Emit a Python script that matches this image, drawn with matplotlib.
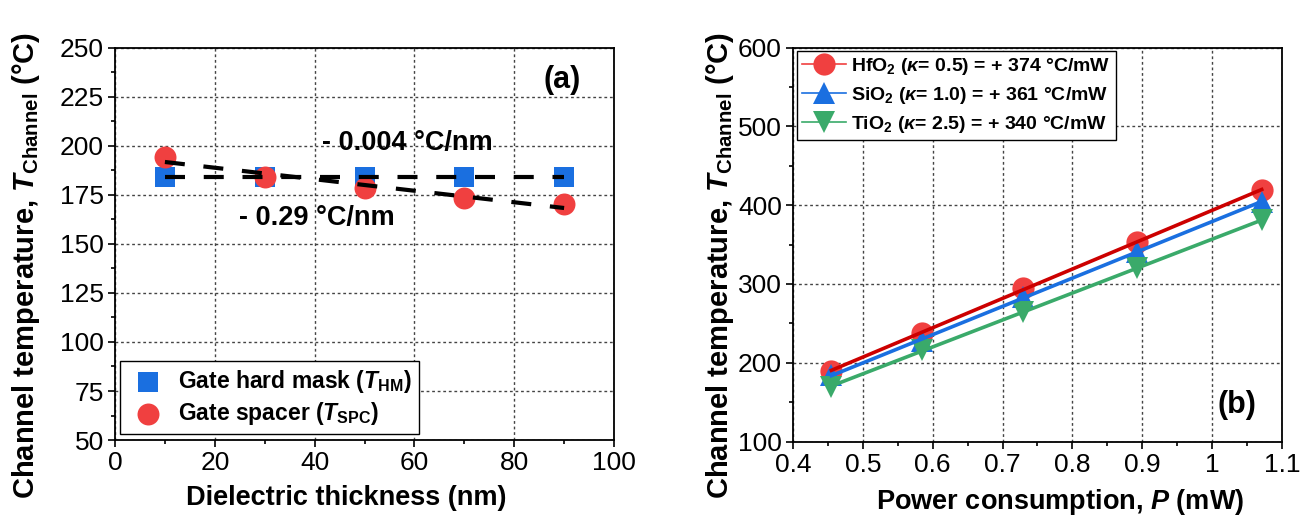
import numpy as np
import matplotlib
matplotlib.use("Agg")
import matplotlib.pyplot as plt
from matplotlib.ticker import MultipleLocator, FuncFormatter

plt.rcParams['font.family'] = ['Liberation Sans', 'DejaVu Sans']
plt.rcParams['mathtext.fontset'] = 'custom'
plt.rcParams['mathtext.rm'] = 'Liberation Sans:bold'
plt.rcParams['mathtext.bf'] = 'Liberation Sans:bold'
plt.rcParams['mathtext.it'] = 'Liberation Sans:bold:italic'

# panel (a): channel temperature vs dielectric thickness
thickness = [10, 30, 50, 70, 90]
temp_hm = [184, 184, 184, 184, 184]
temp_spc = [194.4, 184.0, 178.4, 173.3, 170.4]

# panel (b): channel temperature vs power consumption
power = [0.455, 0.585, 0.73, 0.893, 1.071]
temp_hfo2 = [190, 238, 294.4, 353.6, 419.2]
temp_sio2 = [184.4, 228, 283.8, 340.9, 404.3]
temp_tio2 = [169.6, 216, 264.7, 319.8, 381]

labels_b = [r"HfO$_2$ ($\kappa$= 0.5) = + 374 °C/mW",
            r"SiO$_2$ ($\kappa$= 1.0) = + 361 °C/mW",
            r"TiO$_2$ ($\kappa$= 2.5) = + 340 °C/mW"]

red = '#f04040'
blue = '#1a6fe0'
green = '#3aaa6a'
dark_red = '#cc0000'

ylabel = r"Channel temperature, $T_{\mathrm{Channel}}$ (°C)"

fig = plt.figure(figsize=(13.1, 5.25), dpi=100)
ax1 = fig.add_axes([0.0878, 0.1619, 0.3809, 0.7467])
ax2 = fig.add_axes([0.6053, 0.159, 0.3733, 0.7505])


def style_axes(ax):
  ax.grid(True, which='major', linestyle=(0, (2, 2)), color='#444444', linewidth=1.0)
  ax.set_axisbelow(True)
  ax.tick_params(which='major', direction='out', length=5, width=1.2, labelsize=19, pad=3)
  ax.tick_params(which='minor', direction='out', length=3, width=1.2)
  for s in ax.spines.values():
    s.set_linewidth(1.3)


# --- (a) ---
xs = np.array(thickness, dtype=float)
for ys in (temp_hm, temp_spc):
  k, b = np.polyfit(xs, ys, 1)
  ax1.plot(xs, k * xs + b, linestyle=(0, (4.8, 4.5)), color='black', linewidth=3, zorder=4)
ax1.scatter(thickness, temp_hm, marker='s', s=210, color=blue, linewidths=0, zorder=3,
            label=r"Gate hard mask ($T_{\mathrm{HM}}$)")
ax1.scatter(thickness, temp_spc, marker='o', s=250, color=red, linewidths=0, zorder=3,
            label=r"Gate spacer ($T_{\mathrm{SPC}}$)")
ax1.set_xlim(0, 100)
ax1.set_ylim(50, 250)
ax1.xaxis.set_major_locator(MultipleLocator(20))
ax1.xaxis.set_minor_locator(MultipleLocator(10))
ax1.yaxis.set_major_locator(MultipleLocator(25))
ax1.yaxis.set_minor_locator(MultipleLocator(12.5))
style_axes(ax1)
ax1.set_xlabel("Dielectric thickness (nm)", fontsize=19.5, fontweight='bold')
ax1.set_ylabel(ylabel, fontsize=21, fontweight='bold')
ax1.xaxis.set_label_coords(0.463, -0.115)
ax1.yaxis.set_label_coords(-0.147, 0.446)
ax1.text(41.5, 201.5, "- 0.004 °C/nm", fontsize=19.5, fontweight='bold', va='center', ha='left')
ax1.text(24.8, 163.3, "- 0.29 °C/nm", fontsize=19.5, fontweight='bold', va='center', ha='left')
ax1.text(89.7, 233.5, "(a)", fontsize=22, fontweight='bold', va='center', ha='center')
leg1 = ax1.legend(loc='lower left', fontsize=16.5, frameon=True, fancybox=False,
                  edgecolor='black', framealpha=1, borderpad=0.3, handletextpad=0.45,
                  handlelength=1.8, labelspacing=0.25, bbox_to_anchor=(0.01, 0.015),
                  borderaxespad=0.0)
leg1.get_frame().set_linewidth(1.0)
for t in leg1.get_texts():
  t.set_fontweight('bold')

# --- (b) ---
px = np.array(power)
for ys, c, lc, m, lab in [(temp_hfo2, red, dark_red, 'o', labels_b[0]),
                          (temp_sio2, blue, blue, '^', labels_b[1]),
                          (temp_tio2, green, green, 'v', labels_b[2])]:
  k, b = np.polyfit(px, ys, 1)
  ax2.plot(px, ys, linestyle='none', marker=m, markersize=16, color=c,
           markeredgewidth=0, zorder=3)
  ax2.plot([px[0], px[-1]], [k * px[0] + b, k * px[-1] + b], color=lc, linewidth=2.6, zorder=4)
  ax2.plot([], [], color=c, linewidth=1.2, marker=m, markersize=16, markerfacecolor=c,
           markeredgewidth=0, label=lab)
ax2.set_xlim(0.4, 1.1)
ax2.set_ylim(100, 600)
ax2.xaxis.set_major_locator(MultipleLocator(0.1))
ax2.xaxis.set_minor_locator(MultipleLocator(0.05))
ax2.xaxis.set_major_formatter(FuncFormatter(lambda v, p: f"{v:g}"))
ax2.yaxis.set_major_locator(MultipleLocator(100))
ax2.yaxis.set_minor_locator(MultipleLocator(50))
style_axes(ax2)
ax2.set_xlabel(r"Power consumption, $P$ (mW)", fontsize=19.5, fontweight='bold')
ax2.set_ylabel(ylabel, fontsize=21, fontweight='bold')
ax2.xaxis.set_label_coords(0.546, -0.115)
ax2.yaxis.set_label_coords(-0.117, 0.448)
ax2.text(1.036, 146, "(b)", fontsize=22, fontweight='bold', va='center', ha='center')
leg2 = ax2.legend(loc='upper left', fontsize=14, frameon=True, fancybox=False,
                  edgecolor='black', framealpha=1, borderpad=0.25, handletextpad=0.25,
                  handlelength=2.3, labelspacing=0.4, borderaxespad=0.2)
leg2.get_frame().set_linewidth(1.0)
for t in leg2.get_texts():
  t.set_fontweight('bold')

fig.savefig("out.png", dpi=100)
